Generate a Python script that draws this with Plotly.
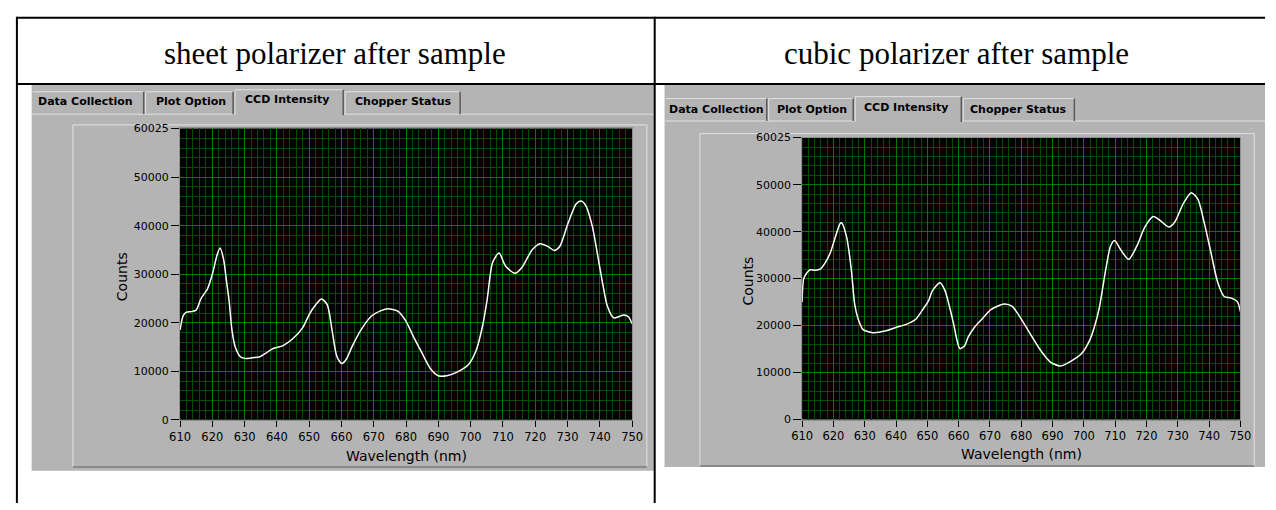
import plotly.graph_objects as go

W, H = 1276, 510

# CCD spectrum, sheet polarizer after the sample
sheet_nm = [610.0, 611.0, 612.0, 613.5, 615.0, 616.5, 618.5, 620.0, 621.5, 622.4,
            623.5, 624.5, 625.2, 626.1, 627.1, 628.7, 630.2, 632.5, 634.7, 636.5,
            638.8, 641.9, 644.9, 648.0, 650.0, 652.0, 653.8, 655.6, 657.1, 658.6,
            660.1, 661.6, 663.2, 666.2, 669.3, 672.3, 674.3, 677.4, 679.9, 682.4,
            685.0, 687.5, 690.0, 692.6, 695.6, 699.2, 701.7, 703.8, 705.1, 706.8,
            708.8, 710.8, 713.7, 715.9, 719.0, 721.5, 724.0, 725.9, 727.6, 730.1,
            732.7, 734.2, 735.7, 737.7, 739.2, 740.8, 742.3, 744.3, 746.0, 747.4,
            748.9, 750.0]
sheet_counts = [18500, 21500, 22200, 22300, 22600, 25000, 27000, 30000, 34000, 35400,
                33000, 28000, 24500, 18400, 15000, 13000, 12650, 12800, 13000, 13700,
                14700, 15300, 16700, 19000, 21700, 23700, 24900, 23700, 18400, 13000,
                11600, 12600, 15000, 18700, 21400, 22500, 22900, 22400, 20400, 17000,
                13700, 10600, 9100, 9100, 9800, 11300, 14300, 19700, 24700, 32400,
                34400, 31700, 30200, 31400, 35000, 36300, 35700, 34900, 35700, 40400,
                44500, 45100, 44100, 39800, 34400, 28400, 23500, 21000, 21300, 21600,
                21200, 19800]

# CCD spectrum, cubic polarizer after the sample
cubic_nm = [610.0, 610.5, 611.6, 612.6, 614.2, 615.8, 617.4, 619.0, 620.5, 622.1,
            622.6, 624.2, 625.7, 626.8, 627.8, 629.4, 632.6, 636.8, 639.9, 643.0,
            646.2, 648.3, 650.4, 651.6, 654.0, 655.6, 657.2, 658.4, 659.5, 660.4,
            661.9, 663.0, 665.0, 667.6, 670.3, 674.5, 677.1, 679.7, 682.9, 686.1,
            689.2, 692.4, 695.5, 699.2, 701.8, 703.3, 704.9, 707.0, 708.5, 709.8,
            711.7, 714.3, 716.9, 719.5, 722.2, 724.3, 727.1, 729.0, 731.7, 734.3,
            736.4, 738.5, 740.6, 742.7, 744.8, 746.9, 749.0, 750.0]
cubic_counts = [25000, 30000, 31300, 31900, 31800, 32000, 33400, 35500, 38600, 41700,
                41900, 38900, 32000, 24500, 21600, 19200, 18500, 18900, 19600, 20200,
                21300, 23200, 25300, 27400, 29100, 27500, 23700, 20300, 16800, 15100,
                15700, 17500, 19600, 21500, 23400, 24600, 24100, 21700, 18200, 14800,
                12300, 11400, 12300, 14000, 16800, 19600, 23700, 32000, 36900, 38100,
                36200, 34100, 36900, 41000, 43200, 42400, 41000, 42000, 45900, 48300,
                46900, 41700, 35500, 29300, 26200, 25900, 25100, 23000]

panel_titles = ["sheet polarizer after sample", "cubic polarizer after sample"]
tab_names = ["Data Collection", "Plot Option", "CCD Intensity", "Chopper Status"]
active_tab = 2
x_ticks = list(range(610, 751, 10))
y_ticks = [0, 10000, 20000, 30000, 40000, 50000, 60025]
x_range = [610, 750]
y_range = [0, 60025]
x_title = "Wavelength (nm)"
y_title = "Counts"

GRAY = "#b4b4b4"
LIGHT = "#e2e2e2"
DARK = "#5a5a5a"
MAJOR_GRID = "#007a00"
MINOR_GRID = "#004e00"
LABEL_FONT = "DejaVu Sans"


def fx(px):
    return px / W


def fy(py):
    return 1 - py / H


# Pixel geometry of the two instrument panels
panels = [
    dict(screen=(21, 81, 655, 477),
         tabs=[(21, 136), (136, 227), (227, 339), (339, 458)],
         tab_top=88, act_top=86, tab_bot=111,
         tab_text_x=[76, 183.5, 281, 399], first_anchor="center",
         tab_text_y=97.5, act_text_y=95.5,
         frame=(63, 122, 647, 473),
         plot=(172, 125.7, 632, 424.7),
         counts_x=113, wl_y=461.5, title_x=330),
    dict(screen=(665, 81, 1276, 473),
         tabs=[(665, 770), (770, 858), (858, 968), (968, 1083)],
         tab_top=95, act_top=93, tab_bot=118,
         tab_text_x=[667, 815, 911, 1025], first_anchor="left",
         tab_text_y=106.5, act_text_y=104.5,
         frame=(701, 131, 1265, 472),
         plot=(805, 135, 1251, 424.4),
         counts_x=750, wl_y=460, title_x=962),
]

series = [(sheet_nm, sheet_counts), (cubic_nm, cubic_counts)]

fig = go.Figure()
shapes = []
annotations = []


def line(x0, y0, x1, y1, color, width=1, layer="below"):
    shapes.append(dict(type="line", xref="paper", yref="paper",
                       x0=fx(x0), y0=fy(y0), x1=fx(x1), y1=fy(y1),
                       line=dict(color=color, width=width), layer=layer))


for i, (p, (xs, ys)) in enumerate(zip(panels, series)):
    n = i + 1
    xa = "x" if n == 1 else f"x{n}"
    ya = "y" if n == 1 else f"y{n}"

    # screenshot background
    sx0, sy0, sx1, sy1 = p["screen"]
    shapes.append(dict(type="rect", xref="paper", yref="paper",
                       x0=fx(sx0), x1=fx(sx1), y0=fy(sy1), y1=fy(sy0),
                       fillcolor=GRAY, line=dict(width=0), layer="below"))

    # tab strip
    tb = p["tab_bot"]
    ax0, ax1 = p["tabs"][active_tab]
    line(sx0, tb, ax0, tb, LIGHT)
    line(ax1, tb, sx1, tb, LIGHT)
    for k, (t0, t1) in enumerate(p["tabs"]):
        top = p["act_top"] if k == active_tab else p["tab_top"]
        bot = tb + 1 if k == active_tab else tb
        if t0 > sx0:
            line(t0 + 1, top, t0 + 1, bot, LIGHT)
        line(t0 + 1, top, t1 - 1, top, LIGHT)
        line(t1 - 1, top, t1 - 1, bot, DARK, 1.5)
        ty = p["act_text_y"] if k == active_tab else p["tab_text_y"]
        anchor = p["first_anchor"] if k == 0 else "center"
        annotations.append(dict(
            text=f"<b>{tab_names[k]}</b>", xref="paper", yref="paper",
            x=fx(p["tab_text_x"][k]), y=fy(ty), xanchor=anchor, yanchor="middle",
            showarrow=False, font=dict(family=LABEL_FONT, size=11, color="black")))

    # graph frame
    gx0, gy0, gx1, gy1 = p["frame"]
    line(gx0, gy0, gx1, gy0, LIGHT)
    line(gx0, gy0, gx0, gy1, LIGHT)
    line(gx1, gy0, gx1, gy1, LIGHT)
    line(gx0, gy1, gx1, gy1, "#7c7c7c", 1.5)

    # black plotting area
    shapes.append(dict(type="rect", xref=f"{xa} domain", yref=f"{ya} domain",
                       x0=0, x1=1, y0=0, y1=1, fillcolor="black",
                       line=dict(width=0), layer="below"))

    px0, py0, px1, py1 = p["plot"]
    xkey = "xaxis" if n == 1 else f"xaxis{n}"
    ykey = "yaxis" if n == 1 else f"yaxis{n}"
    fig.update_layout(**{
        xkey: dict(domain=[fx(px0), fx(px1)], anchor=ya, range=x_range,
                   tickmode="array", tickvals=x_ticks,
                   ticktext=[str(v) for v in x_ticks],
                   ticks="outside", ticklen=6, tickcolor="black", tickwidth=1,
                   tickfont=dict(family=LABEL_FONT, size=11.5, color="black"),
                   showgrid=True, gridcolor=MAJOR_GRID, gridwidth=1,
                   minor=dict(dtick=2, tick0=610, showgrid=True,
                              gridcolor=MINOR_GRID, gridwidth=1),
                   showline=True, mirror=True, linecolor="#8f8f8f", linewidth=1,
                   zeroline=False, fixedrange=True),
        ykey: dict(domain=[fy(py1), fy(py0)], anchor=xa, range=y_range,
                   tickmode="array", tickvals=y_ticks,
                   ticktext=[str(v) for v in y_ticks],
                   ticks="outside", ticklen=8, tickcolor="black", tickwidth=1,
                   tickfont=dict(family=LABEL_FONT, size=11, color="black"),
                   showgrid=True, gridcolor=MAJOR_GRID, gridwidth=1,
                   minor=dict(dtick=2000, tick0=0, showgrid=True,
                              gridcolor=MINOR_GRID, gridwidth=1),
                   showline=True, mirror=True, linecolor="#8f8f8f", linewidth=1,
                   zeroline=False, fixedrange=True),
    })

    fig.add_trace(go.Scatter(
        x=xs, y=ys, xaxis=xa, yaxis=ya, mode="lines",
        line=dict(color="white", width=1.5, shape="spline", smoothing=0.7),
        hoverinfo="skip", showlegend=False))

    # axis titles
    annotations.append(dict(
        text=y_title, xref="paper", yref="paper", x=fx(p["counts_x"]),
        y=fy((py0 + py1) / 2 + 3), textangle=-90, xanchor="center", yanchor="middle",
        showarrow=False, font=dict(family=LABEL_FONT, size=14, color="black")))
    annotations.append(dict(
        text=x_title, xref="paper", yref="paper", x=fx((px0 + px1) / 2),
        y=fy(p["wl_y"]), xanchor="center", yanchor="middle",
        showarrow=False, font=dict(family=LABEL_FONT, size=14, color="black")))

    # panel heading
    annotations.append(dict(
        text=panel_titles[i], xref="paper", yref="paper", x=fx(p["title_x"]),
        y=fy(49), xanchor="center", yanchor="middle", showarrow=False,
        font=dict(family="Liberation Serif", size=31, color="black")))

# table rules around the two panels
line(6, 12, W, 12, "black", 2, "above")
line(6, 80, W, 80, "black", 2, "above")
line(6, 11, 6, H, "black", 2, "above")
line(655, 11, 655, H, "black", 2, "above")

fig.update_layout(
    width=W, height=H, autosize=False,
    margin=dict(l=0, r=0, t=0, b=0, pad=0),
    paper_bgcolor="white", plot_bgcolor="rgba(0,0,0,0)",
    shapes=shapes, annotations=annotations, showlegend=False,
)

fig.write_html("out.html", config={"displayModeBar": False})
